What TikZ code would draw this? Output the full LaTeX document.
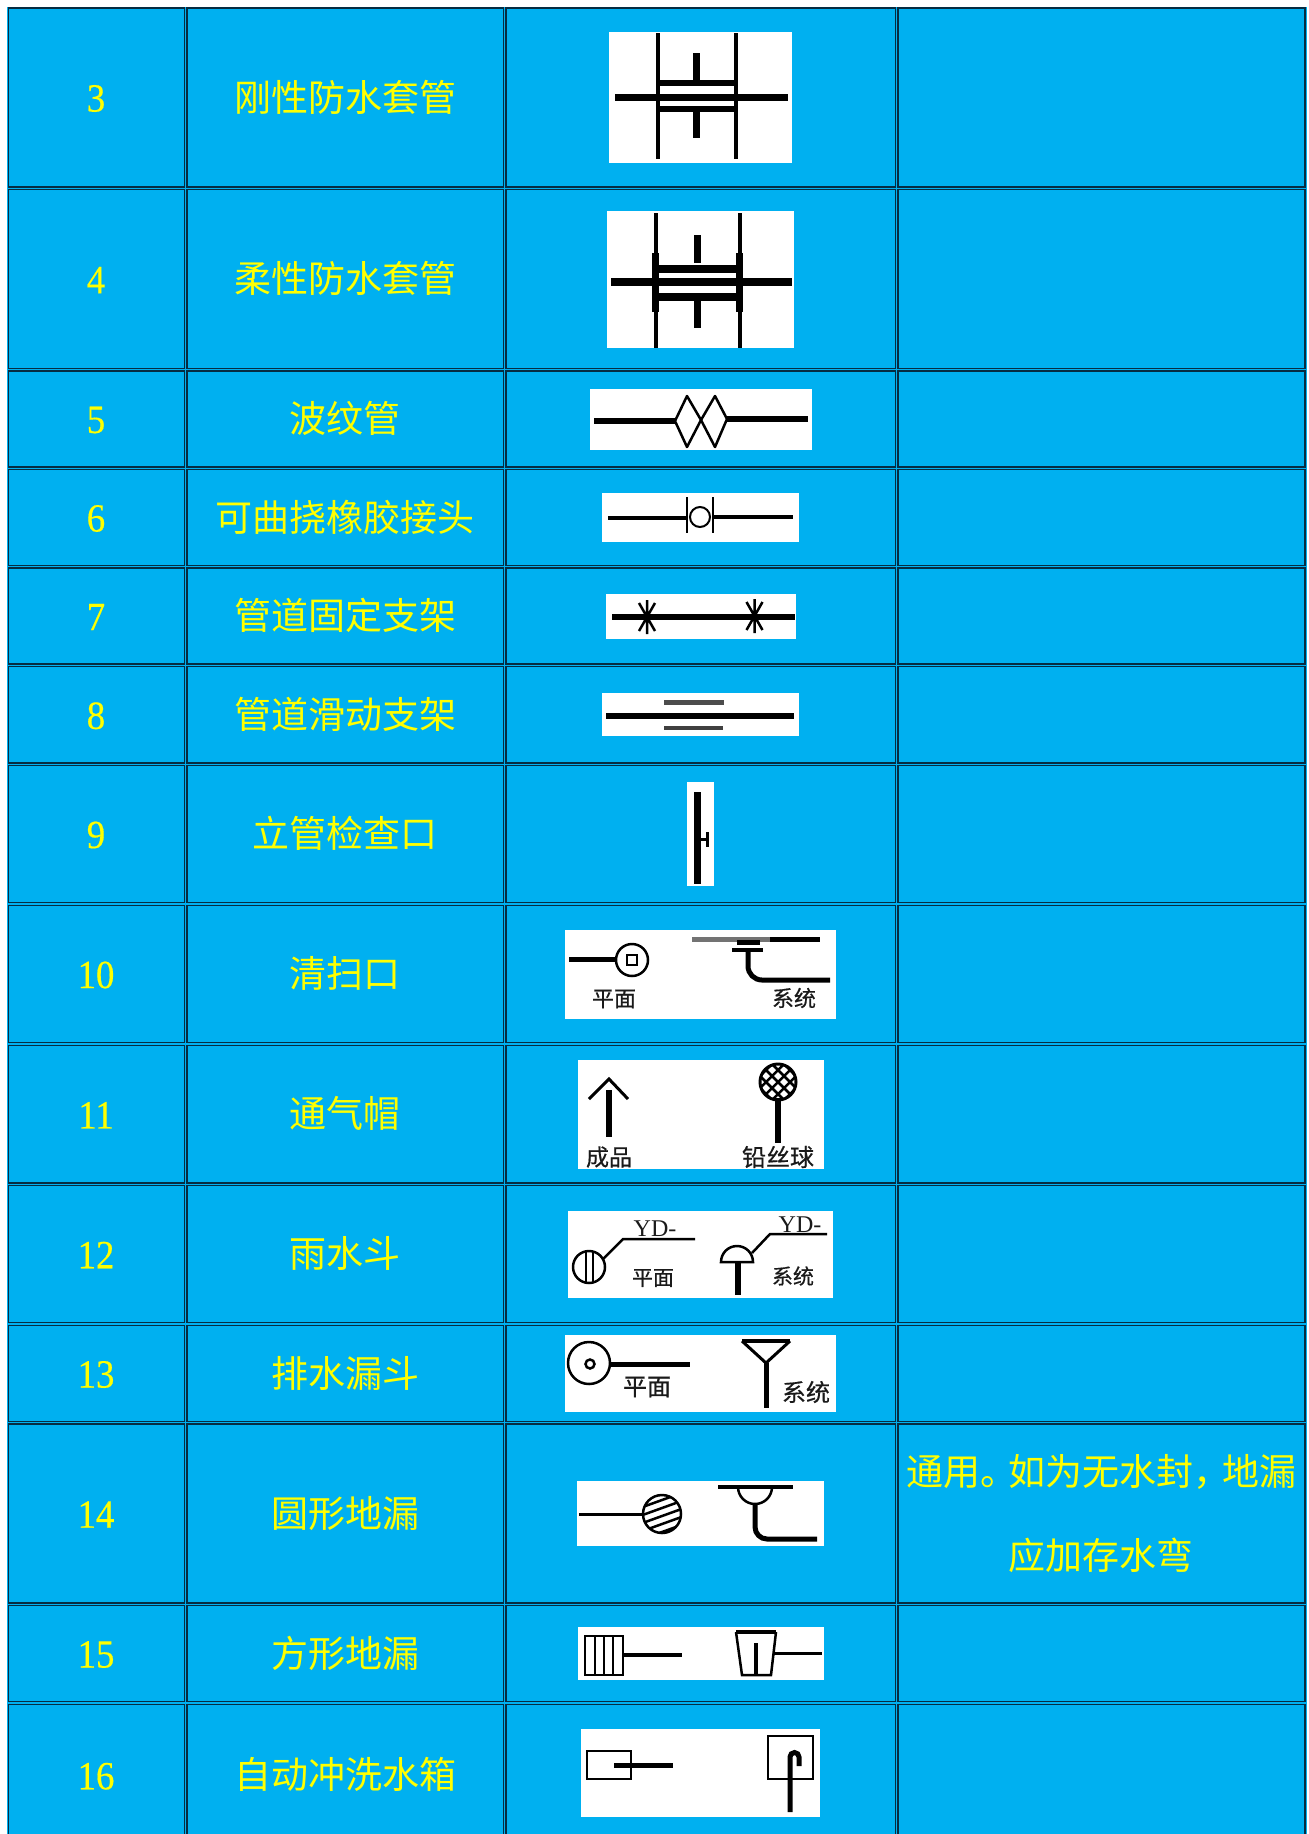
\documentclass[tikz,border=0pt]{standalone}
\usepackage{fontspec}
\setmainfont{Liberation Serif}
\newfontfamily\cjk{Noto Sans CJK SC}
\newfontfamily\cjkb[FakeBold=0.5]{Noto Sans CJK SC}
\newfontfamily\numf[FakeBold=0.4,FakeStretch=0.92]{Liberation Serif}
\definecolor{tblue}{HTML}{00B0F0}
\definecolor{edgedark}{HTML}{062C42}
\definecolor{labyellow}{HTML}{FFFF00}
\definecolor{ink}{HTML}{1A1A1A}
\tikzset{
  cellbox/.style={fill=tblue,draw=edgedark,line width=1.9pt},
  numtext/.style={text=labyellow,inner sep=0pt,font=\numf\fontsize{40}{40}\selectfont},
  cjktext/.style={text=labyellow,inner sep=0pt,text height=32pt,text depth=5pt,font=\cjk\fontsize{37}{37}\selectfont},
  symtext/.style={text=ink,inner sep=0pt,font=\cjkb\fontsize{#1}{#1}\selectfont},
  symbg/.style={fill=white,draw=none},
  pen/.style={draw=black,line width=#1},
  pen/.default=2.5pt
}
\begin{document}
\begin{tikzpicture}[x=1pt,y=-1pt]
\useasboundingbox (0,0) rectangle (1309,1834);
\clip (0,0) rectangle (1309,1834);
\fill[white] (0,0) rectangle (1309,1834);
\fill[tblue] (7,7) rectangle (1307,1860);
% rows
\foreach \t/\b/\n/\lab in {
  8/187/3/刚性防水套管,
  189.5/368.5/4/柔性防水套管,
  371/467/5/波纹管,
  469.5/565.5/6/可曲挠橡胶接头,
  568/664/7/管道固定支架,
  666.5/763/8/管道滑动支架,
  765.5/902.5/9/立管检查口,
  905.5/1042.5/10/清扫口,
  1045.5/1183/11/通气帽,
  1185.5/1322.5/12/雨水斗,
  1325.5/1421.5/13/排水漏斗,
  1424/1603/14/圆形地漏,
  1605.5/1701.5/15/方形地漏,
  1704.5/1846/16/自动冲洗水箱}{
  \draw[cellbox] (8.5,\t) rectangle (184.5,\b);
  \draw[cellbox] (186.8,\t) rectangle (503.5,\b);
  \draw[cellbox] (505.8,\t) rectangle (895.5,\b);
  \draw[cellbox] (898,\t) rectangle (1305,\b);
  \pgfmathsetmacro{\c}{(\t+\b)/2}
  \node[numtext] (num\n) at (96,\c+1) {\n};
  \node[cjktext] (lab\n) at (345,\c) {\lab};
}
\node[cjktext] (note1) at (1101,1472) {通用。\kern-9pt 如为无水封，\kern-8pt 地漏};
\node[cjktext] (note2) at (1101,1556) {应加存水弯};
% white symbol panels
\foreach \xa/\ya/\xb/\yb in {
  609/32/792/163, 607/211/794/348, 590/389/812/450, 602/493/799/542,
  606/594/796/639, 602/693/799/736, 687/782/714/886, 565/930/836/1019,
  578/1060/824/1169, 568/1211/833/1298, 565/1335/836/1412, 577/1481/824/1546,
  578/1627/824/1680, 581/1729/820/1817}{
  \fill[symbg] (\xa,\ya) rectangle (\xb,\yb);
}
% 3
\draw[pen=3.5pt] (658,33)--(658,159) (736,33)--(736,159);
\draw[pen=7pt] (696,53)--(696,80) (696,112)--(696,138);
\draw[pen=7pt] (615,97)--(788,97);
\draw[pen=6.5pt] (658,83)--(736,83) (658,109)--(736,109);
% 4
\draw[pen=4pt] (655.5,213)--(655.5,348) (739.5,213)--(739.5,348);
\draw[pen=7pt] (655.5,253)--(655.5,312) (739.5,253)--(739.5,312);
\draw[pen=7pt] (697,235)--(697,263) (697,300)--(697,328);
\draw[pen=8pt] (611,282)--(792,282);
\draw[pen=8pt] (655,268.5)--(739,268.5) (655,297)--(739,297);
% 5
\draw[pen=6pt] (594,421)--(675,421) (727,419)--(808,419);
\draw[pen=2.5pt,line join=round] (675,421)--(687,396)--(701,420)--(687,447)--cycle;
\draw[pen=2.5pt,line join=round] (701,420)--(715,396)--(727,419)--(715,447)--cycle;
% 6
\draw[pen=3.5pt] (608,518)--(687,518) (713,517)--(793,517);
\draw[pen=2pt] (687,497)--(687,533) (713,497)--(713,533);
\draw[pen=2pt] (700,517) circle[radius=10];
% 7
\draw[pen=6pt] (612,617)--(795,617);
\foreach \cx/\cy in {647/617,754.5/616}{
  \draw[pen=2.5pt] (\cx,\cy-17)--(\cx,\cy+17)
    (\cx-8,\cy-14)--(\cx+8,\cy+14) (\cx+8,\cy-14)--(\cx-8,\cy+14);
}
% 8
\draw[pen=5.5pt] (606,716)--(794,716);
\draw[draw=black!70,line width=5pt] (664,702)--(724,702);
\draw[draw=black!75,line width=3.5pt] (664,728)--(723,728);
% 9
\draw[pen=7pt] (697,792)--(697,884);
\draw[pen=3pt] (697,839)--(707,839) (707,832)--(707,847);
% 10
\draw[pen=5pt] (569,959)--(616,959);
\draw[pen=2.5pt] (632,960) circle[radius=16];
\draw[pen=2.5pt] (627,955) rectangle (637,965);
\node[symtext=22] (t10a) at (614,999) {平面};
\draw[draw=black!55,line width=5pt] (692,939)--(770,939);
\draw[pen=5pt] (770,939)--(820,939);
\draw[pen=5pt] (737,942)--(760,942);
\draw[pen=3.5pt] (732,950)--(763,950);
\draw[pen=5pt,rounded corners=14pt] (748,950)--(748,980)--(830,980);
\node[symtext=22] (t10b) at (794,998) {系统};
% 11
\draw[pen=6pt] (609,1090)--(609,1137);
\draw[pen=3pt] (589,1099)--(609,1079)--(628,1099);
\node[symtext=23] (t11a) at (609,1157) {成品};
\draw[pen=6pt] (778,1098)--(778,1143);
\begin{scope}
  \clip (778,1082) circle[radius=18];
  \foreach \d in {-36,-24,...,36}{
    \draw[pen=2.5pt] (778+\d-25,1082-25)--(778+\d+25,1082+25);
    \draw[pen=2.5pt] (778+\d+25,1082-25)--(778+\d-25,1082+25);
  }
\end{scope}
\draw[pen=3pt] (778,1082) circle[radius=18];
\node[symtext=24] (t11b) at (778,1157) {铅丝球};
% 12
\draw[pen=2.5pt] (589,1267) circle[radius=16];
\draw[pen=2pt] (586,1251)--(586,1283) (593,1251)--(593,1283);
\draw[pen=2.5pt] (603,1259)--(623,1239)--(695,1239);
\node[text=ink,inner sep=0pt,font=\fontsize{24}{24}\selectfont] (t12a) at (655,1229) {YD-};
\node[symtext=21] (t12b) at (653,1278) {平面};
\draw[pen=2.5pt] (721,1262) arc[start angle=180,end angle=0,radius=16pt]--cycle;
\draw[pen=6pt] (738,1262)--(738,1295);
\draw[pen=2.5pt] (752,1253)--(770,1234)--(827,1234);
\node[text=ink,inner sep=0pt,font=\fontsize{24}{24}\selectfont] (t12c) at (800,1225) {YD-};
\node[symtext=21] (t12d) at (793,1276) {系统};
% 13
\draw[pen=2.5pt] (589,1363) circle[radius=21];
\draw[pen=2.5pt] (590,1364) circle[radius=4.5];
\draw[pen=5pt] (610,1364)--(690,1364);
\node[symtext=24] (t13a) at (647,1387) {平面};
\draw[pen=3.5pt] (742,1341)--(790,1341);
\draw[pen=3pt] (742,1341)--(766,1363)--(790,1341);
\draw[pen=5pt] (766,1363)--(766,1408);
\node[symtext=24] (t13b) at (806,1392) {系统};
% 14
\draw[pen=3pt] (579,1514)--(642,1514);
\begin{scope}
  \clip (662,1514) circle[radius=19];
  \foreach \d in {-30,-22,...,30}{
    \draw[pen=2.5pt] (662-25,1514+\d+9)--(662+25,1514+\d-9);
  }
\end{scope}
\draw[pen=2.5pt] (662,1514) circle[radius=19];
\draw[pen=4pt] (718,1487)--(793,1487);
\draw[pen=2.5pt] (738,1487) arc[start angle=180,end angle=360,radius=17pt];
\draw[pen=5pt,rounded corners=12pt] (755,1504)--(755,1539)--(817,1539);
% 15
\draw[pen=2.5pt] (585,1636) rectangle (623,1675);
\draw[pen=2pt] (595,1636)--(595,1675) (604,1636)--(604,1675) (613,1636)--(613,1675);
\draw[pen=3.5pt] (623,1655)--(682,1655);
\draw[pen=3.5pt] (736,1632)--(776,1632);
\draw[pen=2.5pt] (736,1632)--(742,1675)--(771,1675)--(776,1632);
\draw[pen=4pt] (756,1643)--(756,1675);
\draw[pen=3pt] (773,1653)--(822,1653);
% 16
\draw[pen=2.5pt] (587,1751) rectangle (631,1779);
\draw[pen=5pt] (614,1765)--(673,1765);
\draw[pen=2.5pt] (768,1736) rectangle (813,1779);
\draw[pen=5pt] (790,1812)--(790,1757) arc[start angle=180,end angle=0,radius=4.5pt]--(799,1766);
\end{tikzpicture}
\end{document}
